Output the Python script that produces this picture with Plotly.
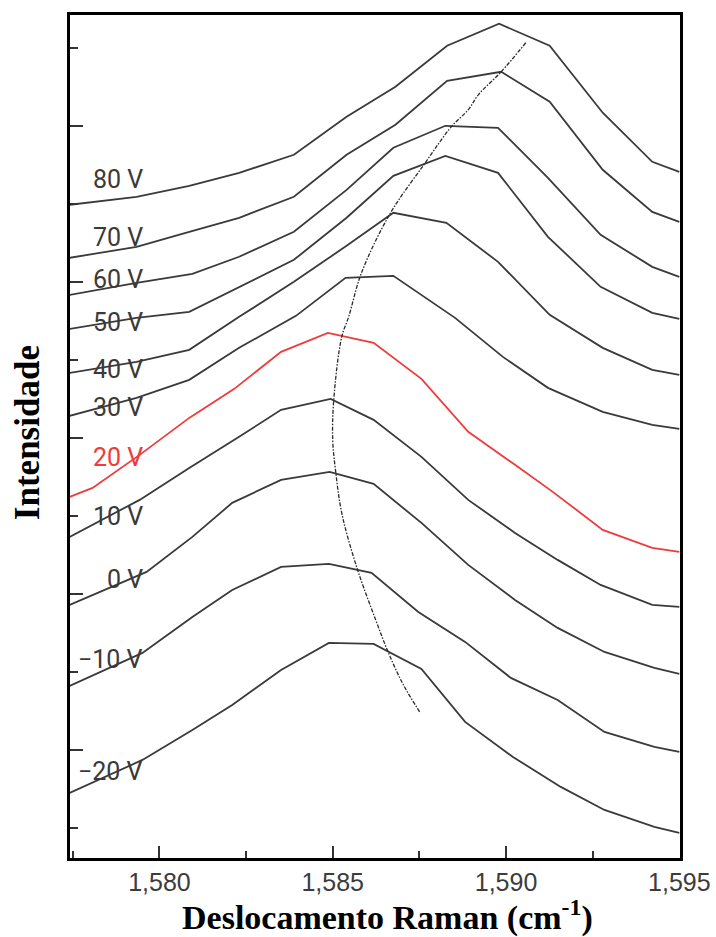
import plotly.graph_objects as go

# Raman shift (cm-1) and intensity (a.u.) for each bias voltage
v80_x = [1577.41, 1579.34, 1580.86, 1582.30, 1583.88, 1585.40, 1586.81, 1588.30, 1589.80, 1591.26, 1592.79, 1594.22, 1595.00]
v80_y = [79.87, 80.90, 82.31, 83.97, 86.28, 91.15, 95.00, 100.26, 103.08, 100.26, 91.67, 85.38, 84.10]

v70_x = [1577.41, 1579.34, 1580.86, 1582.30, 1583.88, 1585.40, 1586.81, 1588.30, 1589.86, 1591.26, 1592.79, 1594.22, 1595.00]
v70_y = [73.08, 74.49, 76.41, 78.21, 80.90, 86.28, 90.13, 95.77, 96.92, 93.08, 84.36, 78.97, 77.69]

v60_x = [1577.41, 1579.34, 1580.95, 1582.30, 1583.88, 1585.40, 1586.75, 1588.25, 1589.77, 1591.21, 1592.73, 1594.22, 1595.00]
v60_y = [68.33, 69.87, 71.03, 73.21, 76.41, 81.79, 87.18, 90.00, 89.74, 83.33, 76.03, 71.92, 70.64]

v50_x = [1577.41, 1579.34, 1580.86, 1582.30, 1583.88, 1585.40, 1586.75, 1588.25, 1589.77, 1591.21, 1592.73, 1594.22, 1595.00]
v50_y = [63.97, 65.38, 66.15, 69.36, 72.82, 78.21, 83.59, 86.15, 83.97, 75.77, 69.36, 66.03, 65.26]

v40_x = [1577.41, 1579.34, 1580.86, 1582.30, 1583.88, 1585.40, 1586.75, 1588.28, 1589.77, 1591.26, 1592.79, 1594.22, 1595.00]
v40_y = [58.33, 59.74, 61.28, 65.51, 70.00, 74.62, 78.85, 77.56, 72.56, 65.77, 61.54, 58.72, 58.08]

v30_x = [1577.41, 1579.34, 1580.86, 1582.30, 1583.94, 1585.37, 1586.75, 1588.53, 1589.91, 1591.21, 1592.79, 1594.22, 1595.00]
v30_y = [52.82, 55.13, 57.44, 61.54, 65.64, 70.51, 70.77, 65.38, 60.38, 56.41, 53.33, 51.67, 51.15]

v20_x = [1577.41, 1578.07, 1579.43, 1580.86, 1582.16, 1583.51, 1584.86, 1586.18, 1587.56, 1588.91, 1590.26, 1591.35, 1592.79, 1594.22, 1595.00]
v20_y = [42.44, 43.59, 47.82, 52.56, 56.28, 61.03, 63.46, 62.18, 57.56, 50.77, 46.54, 43.08, 38.21, 35.90, 35.38]

v10_x = [1577.41, 1579.43, 1580.86, 1582.30, 1583.51, 1584.94, 1586.18, 1587.56, 1588.91, 1590.26, 1591.49, 1592.73, 1594.22, 1595.00]
v10_y = [37.31, 42.05, 46.15, 50.13, 53.59, 55.00, 52.31, 47.56, 42.05, 37.82, 34.36, 31.15, 28.59, 28.33]

v0_x = [1577.41, 1579.63, 1580.95, 1582.10, 1583.51, 1584.91, 1586.18, 1587.56, 1588.91, 1590.26, 1591.49, 1592.84, 1594.28, 1595.00]
v0_y = [28.59, 32.82, 37.31, 41.67, 44.62, 45.64, 44.10, 39.10, 33.72, 29.23, 25.64, 22.56, 20.51, 19.74]

vm10_x = [1577.41, 1579.51, 1580.95, 1582.10, 1583.51, 1584.89, 1586.12, 1587.47, 1588.82, 1590.14, 1591.49, 1592.84, 1594.28, 1595.00]
vm10_y = [18.21, 22.44, 27.05, 30.51, 33.46, 33.85, 32.69, 27.69, 23.85, 19.23, 16.41, 12.31, 10.38, 9.74]

vm20_x = [1577.41, 1579.51, 1580.95, 1582.10, 1583.51, 1584.89, 1586.18, 1587.56, 1588.82, 1590.20, 1591.58, 1592.84, 1594.28, 1595.00]
vm20_y = [4.49, 8.72, 12.56, 15.77, 20.26, 23.72, 23.59, 20.38, 13.59, 9.10, 5.26, 2.31, 0.13, -0.64]

# G-peak position trend
peak_x = [1590.57, 1589.86, 1589.20, 1588.91, 1588.42, 1587.67, 1586.67, 1585.83, 1585.46, 1585.26, 1585.03, 1585.00, 1585.09, 1585.26, 1585.69, 1586.24, 1586.61, 1587.04, 1587.53]
peak_y = [100.64, 96.92, 93.97, 92.05, 89.87, 85.26, 78.85, 71.15, 65.51, 62.95, 54.87, 49.74, 45.51, 40.38, 33.46, 26.67, 22.44, 18.33, 14.74]

labels = ["80 V", "70 V", "60 V", "50 V", "40 V", "30 V", "20 V", "10 V", "0 V", "\u221210 V", "\u221220 V"]
label_y = [83.08, 75.64, 70.26, 64.74, 58.72, 53.85, 47.44, 39.87, 31.79, 21.54, 7.18]
label_x = 1579.57

x_ticks = [1580, 1585, 1590, 1595]
x_ticktext = ["1,580", "1,585", "1,590", "1,595"]

series = [
    (v80_x, v80_y), (v70_x, v70_y), (v60_x, v60_y), (v50_x, v50_y),
    (v40_x, v40_y), (v30_x, v30_y), (v20_x, v20_y), (v10_x, v10_y),
    (v0_x, v0_y), (vm10_x, vm10_y), (vm20_x, vm20_y),
]

RED = "#ef3b3b"
DARK = "#3a3a3a"

fig = go.Figure()
for (xs, ys), lab in zip(series, labels):
    col = RED if lab == "20 V" else DARK
    fig.add_trace(go.Scatter(x=xs, y=ys, mode="lines", name=lab,
                             line=dict(color=col, width=1.8), showlegend=False))

fig.add_trace(go.Scatter(x=peak_x, y=peak_y, mode="lines", showlegend=False,
                         line=dict(color="#2a2a2a", width=1.3, shape="spline",
                                   dash="4px,1.5px,1.5px,1.5px")))

for lab, ly in zip(labels, label_y):
    fig.add_annotation(x=label_x, y=ly, text=lab, showarrow=False,
                       xanchor="right", yanchor="middle",
                       font=dict(family="Roboto, sans-serif",
                                 size=25, color=RED if lab == "20 V" else DARK))

fig.add_annotation(xref="paper", yref="paper", x=0.521, y=0, yshift=-57,
                   text="Deslocamento Raman (cm<sup>-1</sup>)", showarrow=False,
                   xanchor="center", yanchor="middle",
                   font=dict(family="Liberation Serif, Times New Roman, serif", size=34, color="black",
                             weight="bold"))
fig.add_annotation(xref="paper", yref="paper", x=0, xshift=-43, y=0.504,
                   text="Intensidade", textangle=-90, showarrow=False,
                   xanchor="center", yanchor="middle",
                   font=dict(family="Liberation Serif, Times New Roman, serif", size=35, color="black",
                             weight="bold"))

fig.update_layout(
    width=716, height=937,
    margin=dict(l=70, r=36, t=15, b=79, autoexpand=False),
    paper_bgcolor="white", plot_bgcolor="white",
    xaxis=dict(range=[1577.42, 1595.02], tickmode="array", tickvals=x_ticks, ticktext=x_ticktext,
               automargin=False,
               ticks="inside", ticklen=12, tickwidth=2, tickcolor="#333",
               minor=dict(dtick=2.5, tick0=1580, ticks="inside", ticklen=7, tickwidth=2, tickcolor="#333"),
               showline=True, linecolor="black", linewidth=3, mirror=True,
               showgrid=False, zeroline=False,
               tickfont=dict(family="Liberation Sans, Arial, sans-serif", size=25, color="#3c3c3c")),
    yaxis=dict(range=[-3.85, 104.2], tick0=10, dtick=20, showticklabels=False,
               automargin=False,
               ticks="inside", ticklen=13, tickwidth=2, tickcolor="#333",
               minor=dict(dtick=10, tick0=0, ticks="inside", ticklen=8, tickwidth=2, tickcolor="#333"),
               showline=True, linecolor="black", linewidth=3, mirror=True,
               showgrid=False, zeroline=False),
)

fig.write_html("out.html")
